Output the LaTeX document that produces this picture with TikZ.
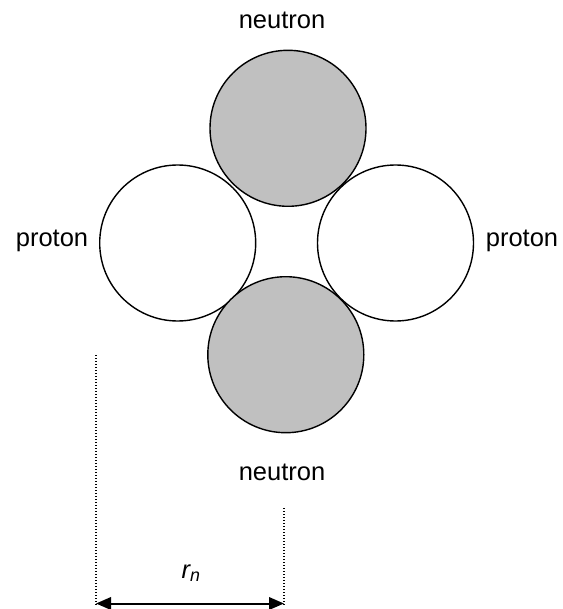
\documentclass[tikz,border=0pt]{standalone}
\usepackage{fontspec}
\setmainfont{Liberation Sans}
\usetikzlibrary{arrows.meta}
\definecolor{ngray}{RGB}{192,192,192}
\begin{document}
\begin{tikzpicture}[x=1pt,y=-1pt,
  particle/.style={circle, draw=black, line width=1.4pt, minimum size=156pt, inner sep=0pt},
  neutronball/.style={particle, fill=ngray},
  protonball/.style={particle, fill=white},
  lbl/.style={font=\fontsize{25.5}{30}\selectfont, inner sep=0pt},
  guide/.style={line width=1.3pt, dash pattern=on 1.3pt off 1.7pt},
  dim/.style={line width=2pt, {Triangle[length=15pt,width=12.5pt]}-{Triangle[length=15pt,width=12.5pt]}}]
\useasboundingbox (0,0) rectangle (562,609);
\node[protonball] (pl) at (177.7,243) {};
\node[protonball] (pr) at (395.5,243) {};
\node[neutronball] (nt) at (288,128.3) {};
\node[neutronball] (nb) at (285.8,354.7) {};
\node[lbl, anchor=base] (lnt) at (282,28.5) {neutron};
\node[lbl, anchor=base] (lnb) at (282,480) {neutron};
\node[lbl, anchor=base] (lpl) at (52,247) {proton};
\node[lbl, anchor=base] (lpr) at (522,247) {proton};
\coordinate (gl1) at (96,355);
\coordinate (gl2) at (96,606);
\coordinate (gr1) at (284,508);
\coordinate (gr2) at (284,606);
\draw[guide] (gl1) -- (gl2);
\draw[guide] (gr1) -- (gr2);
\coordinate (al) at (96,603.5);
\coordinate (ar) at (284,603.5);
\draw[dim] (al) -- (ar);
\node[font=\fontsize{25.5}{30}\selectfont\itshape, anchor=base, inner sep=0pt] (rn) at (191,578) {r\textsubscript{n}};
\end{tikzpicture}
\end{document}
